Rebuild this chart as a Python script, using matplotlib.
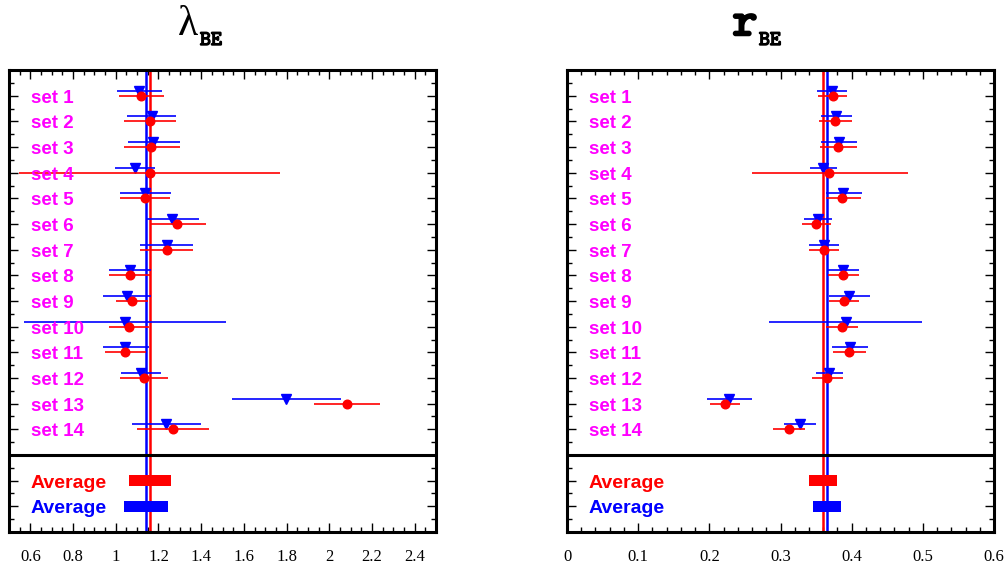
import numpy as np
import matplotlib
matplotlib.use("Agg")
import matplotlib.pyplot as plt
import matplotlib.patheffects as pe
from matplotlib.ticker import MultipleLocator, FormatStrFormatter

labels = ["set %d" % i for i in range(1, 15)]

# lambda_BE : value, lower edge, upper edge of error bar
lam_red     = [1.120, 1.159, 1.167, 1.160, 1.139, 1.289, 1.238, 1.066, 1.076, 1.062, 1.043, 1.132, 2.081, 1.266]
lam_red_lo  = [1.015, 1.037, 1.037, 0.549, 1.021, 1.167, 1.115, 0.968, 0.999, 0.970, 0.948, 1.021, 1.929, 1.099]
lam_red_hi  = [1.224, 1.284, 1.299, 1.771, 1.256, 1.421, 1.363, 1.159, 1.151, 1.154, 1.143, 1.246, 2.237, 1.437]
lam_blue    = [1.109, 1.170, 1.176, 1.088, 1.139, 1.265, 1.238, 1.066, 1.052, 1.041, 1.043, 1.116, 1.798, 1.235]
lam_blue_lo = [1.005, 1.054, 1.056, 0.995, 1.021, 1.145, 1.115, 0.968, 0.940, 0.569, 0.940, 1.023, 1.543, 1.076]
lam_blue_hi = [1.216, 1.284, 1.299, 1.185, 1.260, 1.388, 1.363, 1.167, 1.167, 1.515, 1.154, 1.210, 2.053, 1.398]
lam_avg     = [1.162, 1.140]   # red, blue
lam_avg_err = [0.098, 0.103]

# r_BE
r_red     = [0.3733, 0.3770, 0.3813, 0.3686, 0.3869, 0.3499, 0.3611, 0.3883, 0.3897, 0.3860, 0.3958, 0.3658, 0.2216, 0.3119]
r_red_lo  = [0.3532, 0.3540, 0.3555, 0.2604, 0.3635, 0.3307, 0.3405, 0.3670, 0.3686, 0.3635, 0.3733, 0.3447, 0.2005, 0.2900]
r_red_hi  = [0.3940, 0.4005, 0.4070, 0.4790, 0.4127, 0.3705, 0.3822, 0.4103, 0.4103, 0.4094, 0.4202, 0.3883, 0.2427, 0.3349]
r_blue    = [0.3724, 0.3780, 0.3827, 0.3600, 0.3883, 0.3522, 0.3611, 0.3883, 0.3962, 0.3915, 0.3973, 0.3686, 0.2276, 0.3274]
r_blue_lo = [0.3508, 0.3570, 0.3570, 0.3414, 0.3635, 0.3335, 0.3405, 0.3663, 0.3686, 0.2843, 0.3720, 0.3494, 0.1963, 0.3049]
r_blue_hi = [0.3930, 0.4005, 0.4070, 0.3790, 0.4140, 0.3720, 0.3822, 0.4103, 0.4258, 0.4983, 0.4235, 0.3874, 0.2595, 0.3499]
r_avg     = [0.3592, 0.3651]
r_avg_err = [0.0195, 0.0193]

RED = "#ff0000"
BLUE = "#0000ff"
MAG = "#ff00ff"


def panel(ax, red, rlo, rhi, blue, blo, bhi, avg, avg_err, xlim, ticks, minor):
    rows = np.arange(1, len(red) + 1)
    red, rlo, rhi = map(np.array, (red, rlo, rhi))
    blue, blo, bhi = map(np.array, (blue, blo, bhi))

    ax.axvline(avg[1], color=BLUE, lw=1.8, zorder=2)
    ax.axvline(avg[0], color=RED, lw=1.8, zorder=2)

    ax.errorbar(blue, rows - 0.19, xerr=[blue - blo, bhi - blue], fmt="v",
                color=BLUE, ms=7.5, elinewidth=1.2, capsize=0, zorder=3)
    ax.errorbar(red, rows, xerr=[red - rlo, rhi - red], fmt="o",
                color=RED, ms=6.2, elinewidth=1.2, capsize=0, zorder=4)

    ax.barh([16, 17], [2 * e for e in avg_err],
            left=[a - e for a, e in zip(avg, avg_err)],
            height=0.41, color=[RED, BLUE], zorder=5)

    ax.axhline(15, color="black", lw=2.2, zorder=6)

    for r, lab in zip(rows, labels):
        ax.text(0.0515, r + 0.27, lab, transform=ax.get_yaxis_transform(),
                color=MAG, fontsize=13.5, fontweight="bold",
                family="Liberation Sans", va="baseline", zorder=7)
    for r, c in zip([16, 17], [RED, BLUE]):
        ax.text(0.0515, r + 0.27, "Average", transform=ax.get_yaxis_transform(),
                color=c, fontsize=14, fontweight="bold",
                family="Liberation Sans", va="baseline", zorder=7)

    ax.set_xlim(*xlim)
    ax.set_ylim(18, 0)
    ax.set_xticks(ticks)
    ax.xaxis.set_minor_locator(MultipleLocator(minor))
    ax.xaxis.set_major_formatter(FormatStrFormatter("%g"))
    ax.yaxis.set_major_locator(MultipleLocator(1))
    ax.yaxis.set_minor_locator(MultipleLocator(0.5))
    ax.set_yticklabels([])
    ax.tick_params(which="both", direction="in", top=True, right=True,
                   width=1, colors="black")
    ax.tick_params(which="major", length=6.5)
    ax.tick_params(which="minor", length=3.3)
    ax.tick_params(axis="x", pad=12, labelsize=12)
    for lab in ax.get_xticklabels():
        lab.set_family("Liberation Serif")
    for s in ax.spines.values():
        s.set_linewidth(2.2)


fig = plt.figure(figsize=(10.07, 5.70), dpi=100)
W, H = 1007.0, 570.0
ax1 = fig.add_axes([9 / W, 1 - 532 / H, 427 / W, 462 / H])
ax2 = fig.add_axes([567 / W, 1 - 532 / H, 427 / W, 462 / H])

panel(ax1, lam_red, lam_red_lo, lam_red_hi, lam_blue, lam_blue_lo, lam_blue_hi,
      lam_avg, lam_avg_err, (0.5, 2.5), np.arange(0.6, 2.41, 0.2), 0.05)
panel(ax2, r_red, r_red_lo, r_red_hi, r_blue, r_blue_lo, r_blue_hi,
      r_avg, r_avg_err, (0.0, 0.6), np.arange(0.0, 0.61, 0.1), 0.02)

# titles (typewriter face with slab serifs, faked bold)
bold = [pe.withStroke(linewidth=1.0, foreground="black")]
fig.text(188 / W, 1 - 35 / H, "\u03bb", fontsize=30, family="Liberation Serif",
         ha="center", va="baseline")
fig.text(200 / W, 1 - 45 / H, "BE", fontsize=15, family="cmtt10",
         ha="left", va="baseline", path_effects=bold)
fig.text(745 / W, 1 - 35 / H, "r", fontsize=34, family="cmtt10",
         ha="center", va="baseline",
         path_effects=[pe.withStroke(linewidth=1.8, foreground="black")])
fig.text(759 / W, 1 - 45 / H, "BE", fontsize=15, family="cmtt10",
         ha="left", va="baseline", path_effects=bold)

fig.savefig("out.png", dpi=100)
